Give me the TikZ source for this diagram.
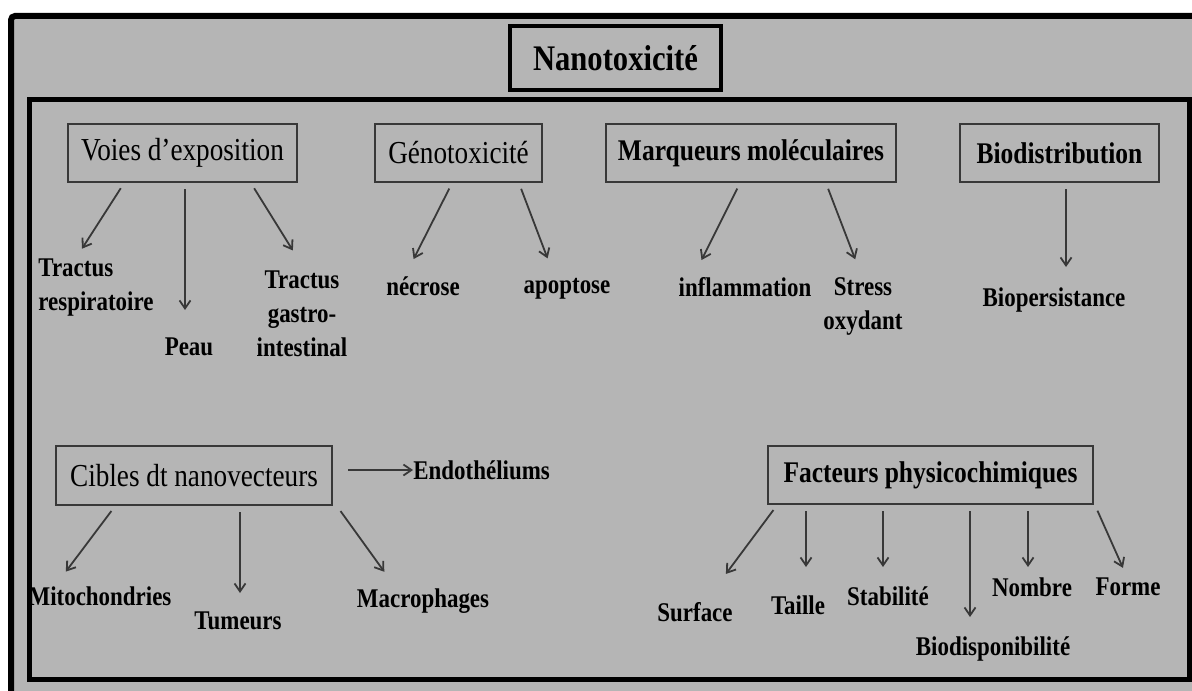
\documentclass[tikz,border=0pt]{standalone}
\usepackage{fontspec}
\setmainfont[FakeStretch=0.85]{Liberation Serif}
\usetikzlibrary{arrows.meta}
\definecolor{fond}{gray}{0.71}
\definecolor{trait}{gray}{0.22}
\tikzset{
  cadre/.style = {draw = trait, line width = 1.2pt, inner sep = 0pt, font = \fontsize{16}{19}\selectfont},
  cadregras/.style = {cadre, font = \fontsize{15}{18}\selectfont\bfseries},
  fils/.style = {inner sep = 0pt, anchor = north, font = \fontsize{13.5}{17}\selectfont\bfseries},
  fleche/.style = {-{Straight Barb[length = 4pt, width = 5.5pt]}, draw = trait, line width = 0.9pt, shorten <= 3pt}
}

\begin{document}
\begin{tikzpicture}[x = 0.5pt, y = -0.5pt]
\fill[white] (0, 0) rectangle (1192, 690);
\clip (0, 0) rectangle (1192, 690);
\draw[fill = fond, line width = 3pt, rounded corners = 2pt] (11, 16) rectangle (1215, 715);
\draw[line width = 2.5pt] (29.5, 99.5) rectangle (1189, 679);

\node[draw, line width = 2pt, inner sep = 0pt, minimum width = 105.5pt, minimum height = 32pt, font = \fontsize{18}{20}\selectfont\bfseries] (titre) at (615.5, 58) {Nanotoxicité};

\node[cadre, minimum width = 114.5pt, minimum height = 29pt] (voies) at (182.5, 153) {Voies d'exposition};
\node[cadre, minimum width = 83.5pt, minimum height = 29pt] (geno) at (458.5, 153) {Génotoxicité};
\node[cadregras, minimum width = 145pt, minimum height = 29pt] (marq) at (751, 153) {Marqueurs moléculaires};
\node[cadregras, minimum width = 99.5pt, minimum height = 29pt] (biod) at (1059.5, 153) {Biodistribution};
\node[cadre, minimum width = 138pt, minimum height = 29.5pt] (cibles) at (194, 475.5) {Cibles dt nanovecteurs};
\node[cadregras, minimum width = 162.5pt, minimum height = 29pt] (fact) at (930.5, 475) {Facteurs physicochimiques};

\node[fils, anchor = north west, align = left] (resp) at (38, 258) {Tractus\\respiratoire};
\node[fils] (peau) at (189, 337) {Peau};
\node[fils, align = center] (gastro) at (302, 270) {Tractus\\gastro-\\intestinal};
\node[fils] (necrose) at (423, 276) {nécrose};
\node[fils] (apoptose) at (567, 278) {apoptose};
\node[fils] (inflam) at (745, 277) {inflammation};
\node[fils, align = center] (stress) at (863, 277) {Stress\\oxydant};
\node[fils] (biopers) at (1054, 287) {Biopersistance};
\node[fils, anchor = west] (endo) at (413, 470) {Endothéliums};
\node[fils] (mito) at (100, 586) {Mitochondries};
\node[fils] (tumeurs) at (238, 611) {Tumeurs};
\node[fils] (macro) at (423, 588) {Macrophages};
\node[fils] (surface) at (695, 602) {Surface};
\node[fils] (taille) at (798, 595) {Taille};
\node[fils] (stab) at (888, 586) {Stabilité};
\node[fils] (biodisp) at (993, 636) {Biodisponibilité};
\node[fils] (nombre) at (1032, 577) {Nombre};
\node[fils] (forme) at (1128, 577) {Forme};

\draw[fleche, shorten >= 5.5pt] (voies.south -| 124, 0) -- (resp.north -| 76, 0);
\draw[fleche, shorten >= 13.5pt] (voies.south -| 185, 0) -- (peau.north -| 185, 0);
\draw[fleche, shorten >= 11.5pt] (voies.south -| 251, 0) -- (gastro.north -| 305, 0);
\draw[fleche, shorten >= 9.5pt] (geno.south -| 452, 0) -- (necrose.north -| 405, 0);
\draw[fleche, shorten >= 10.5pt] (geno.south -| 519, 0) -- (apoptose.north -| 555, 0);
\draw[fleche, shorten >= 9.5pt] (marq.south -| 740, 0) -- (inflam.north -| 693, 0);
\draw[fleche, shorten >= 9.5pt] (marq.south -| 826, 0) -- (stress.north -| 862, 0);
\draw[fleche, shorten >= 10pt] (biod.south -| 1066, 0) -- (biopers.north -| 1066, 0);
\draw[fleche, shorten <= 7.5pt] (endo.west -| cibles.east) -- (endo.west);
\draw[fleche, shorten >= 9pt] (cibles.south -| 115, 0) -- (mito.north -| 55, 0);
\draw[fleche, shorten >= 9pt] (cibles.south -| 240, 0) -- (tumeurs.north -| 240, 0);
\draw[fleche, shorten >= 10pt] (cibles.south -| 337, 0) -- (macro.north -| 396, 0);
\draw[fleche, shorten >= 17.5pt] (fact.south -| 777, 0) -- (surface.north -| 705, 0);
\draw[fleche, shorten >= 14pt] (fact.south -| 806, 0) -- (taille.north -| 806, 0);
\draw[fleche, shorten >= 9.5pt] (fact.south -| 883, 0) -- (stab.north -| 883, 0);
\draw[fleche, shorten >= 9.5pt] (fact.south -| 970, 0) -- (biodisp.north -| 970, 0);
\draw[fleche, shorten >= 5pt] (fact.south -| 1028, 0) -- (nombre.north -| 1028, 0);
\draw[fleche, shorten >= 5pt] (fact.south -| 1095, 0) -- (forme.north -| 1127, 0);
\end{tikzpicture}
\end{document}
